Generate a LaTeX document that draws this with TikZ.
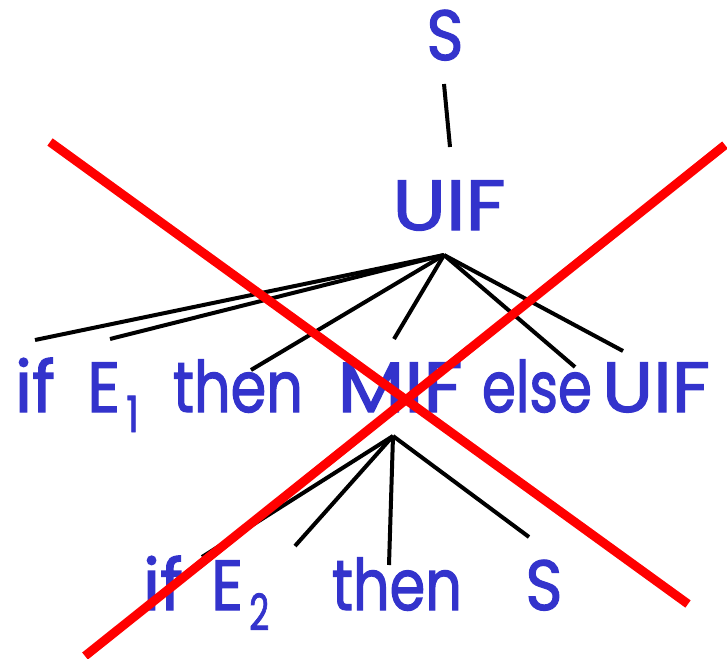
\documentclass[tikz,border=0pt]{standalone}
\usepackage{fontspec}
\usepackage{graphicx}
\setmainfont{Poppins}
\newfontfamily\wordfont{Poppins}[UprightFeatures={FakeBold=1.8}]
\definecolor{txtblue}{RGB}{51,51,204}
\definecolor{xred}{RGB}{255,0,0}
\newcommand\fitw[2]{\resizebox{#1}{\height}{#2}}
\newcommand\subnum[2]{\raisebox{-20pt}{\fontsize{50}{50}\selectfont\fitw{#1}{#2}}}
\begin{document}
\begin{tikzpicture}[x=1pt,y=-1pt,
  word/.style={anchor=base,text=txtblue,inner sep=0pt,font=\wordfont\fontsize{71}{71}\selectfont},
  edge/.style={draw=black,line width=4pt},
  cross/.style={draw=xred,line width=9pt}]
\useasboundingbox (0,0) rectangle (727,658);
% words
\node[word] (s0) at (445,60) {\fitw{37pt}{S}};
\node[word] (uif0) at (449,230) {\fitw{113pt}{UIF}};
\node[word] (if1) at (35,412) {\fitw{40pt}{if}};
\node[word,anchor=base west] (e1) at (87,412) {\fitw{33pt}{E}\hspace{6pt}\subnum{13pt}{1}};
\node[word] (then1) at (238,412) {\fitw{130pt}{then}};
\node[word] (mif1) at (400,412) {\fitw{125pt}{MIF}};
\node[word] (else1) at (537,412) {\fitw{110pt}{else}};
\node[word] (uif1) at (656,412) {\fitw{108pt}{UIF}};
\node[word] (if2) at (163,610) {\fitw{40pt}{if}};
\node[word,anchor=base west] (e2) at (211,610) {\fitw{32pt}{E}\hspace{6pt}\subnum{20pt}{2}};
\node[word] (then2) at (397,610) {\fitw{130pt}{then}};
\node[word] (s2) at (544,610) {\fitw{37pt}{S}};
% connector ends
\coordinate (sb) at (444,84);
\coordinate (ut) at (450,147);
\coordinate (ua) at (444,255);
\coordinate (c1) at (35,340);
\coordinate (c2) at (110,339);
\coordinate (c3) at (251,370);
\coordinate (c4) at (394,339);
\coordinate (c5) at (575,367);
\coordinate (c6) at (623,351);
\coordinate (ma) at (393,436);
\coordinate (d1) at (202,557);
\coordinate (d2) at (295,546);
\coordinate (d3) at (389,565);
\coordinate (d4) at (529,537);
\draw[edge] (sb) -- (ut);
\foreach \c in {c1,c2,c3,c4,c5,c6} \draw[edge] (ua) -- (\c);
\foreach \c in {d1,d2,d3,d4} \draw[edge] (ma) -- (\c);
% red cross
\coordinate (r1a) at (50,142);
\coordinate (r1b) at (688,604);
\coordinate (r2a) at (725,145);
\coordinate (r2b) at (85,656);
\draw[cross] (r1a) -- (r1b);
\draw[cross] (r2a) -- (r2b);
\end{tikzpicture}
\end{document}
